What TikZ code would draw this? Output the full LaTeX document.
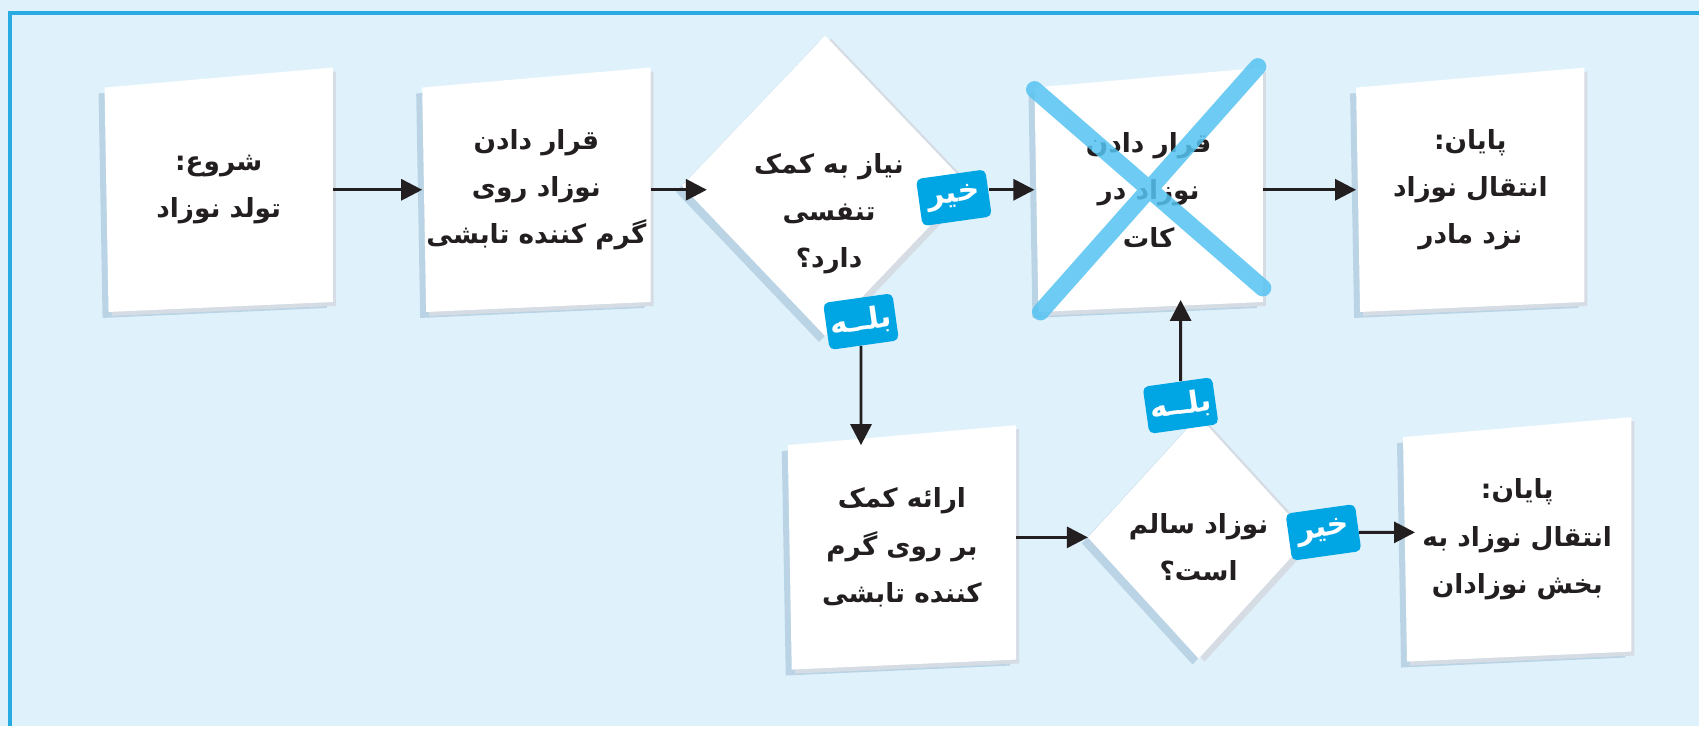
\documentclass[tikz,border=0pt]{standalone}
\usepackage{fontspec}
\newfontfamily\farsi[Script=Arabic]{DejaVu Sans}
\TeXXeTstate=1
\usetikzlibrary{arrows.meta,calc,positioning,shapes.geometric,backgrounds}
\definecolor{bgblue}{HTML}{DFF1FB}
\definecolor{frameblue}{HTML}{29ABE2}
\definecolor{tagblue}{HTML}{00A6E4}
\definecolor{crossblue}{HTML}{55C3F1}
\definecolor{shadeblue}{HTML}{8FB2CB}
\definecolor{sheetgray}{HTML}{D5DCE4}
\definecolor{ink}{HTML}{231F20}
\newcommand\fa[1]{\beginR#1\endR}
\tikzset{
  txt/.style={font=\farsi\bfseries\fontsize{15}{27}\selectfont, text=ink, align=center},
  note/.style={txt, minimum width=4.56cm, minimum height=4.88cm, inner sep=0pt},
  decision/.style={diamond, inner sep=0pt},
  tag/.style={fill=tagblue, text=white, rounded corners=3pt, minimum width=1.4cm, minimum height=0.95cm,
    inner sep=2pt, font=\farsi\bfseries\fontsize{17}{20}\selectfont, rotate=8},
  arr/.style={draw=ink, line width=1.7pt, -{Triangle[length=0.42cm,width=0.42cm]}},
  cross/.style={crossblue, line width=0.34cm, line cap=round, opacity=0.85}
}

\begin{document}
\begin{tikzpicture}[x=0.02cm, y=-0.02cm]
\node[note] (start) at (219,190) {\fa{شروع:}\\\fa{تولد نوزاد}};
\node[note] (warm) at (537,190) {\fa{قرار دادن}\\\fa{نوزاد روی}\\\fa{گرم کننده تابشی}};
\node[decision, minimum width=5.72cm, minimum height=6cm] (need) at (826,186) {};
\node[txt] (needq) at (830,214) {\fa{نیاز به کمک}\\\fa{تنفسی}\\\fa{دارد؟}};
\node[note] (cot) at (1150,190) {\fa{قرار دادن}\\\fa{نوزاد در}\\\fa{کات}};
\node[note] (mother) at (1472,190) {\fa{پایان:}\\\fa{انتقال نوزاد}\\\fa{نزد مادر}};
\node[note] (help) at (903,548) {\fa{ارائه کمک}\\\fa{بر روی گرم}\\\fa{کننده تابشی}};
\node[decision, minimum width=4.42cm, minimum height=4.84cm] (ok) at (1200,538) {};
\node[txt] (okq) at (1200,548) {\fa{نوزاد سالم}\\\fa{است؟}};
\node[note] (ward) at (1519,540) {\fa{پایان:}\\\fa{انتقال نوزاد به}\\\fa{بخش نوزادان}};

\draw[cross] ($(cot.north west)+(0,22)$) -- ($(cot.south east)+(0,-24)$)
             ($(cot.south west)+(6,0)$) -- ($(cot.north east)+(-5,-1)$);

\node[tag] (no1) at (955,198) {\fa{خیر}};
\node[tag] (yes1) at (862,322) {\fa{بلــه}};
\node[tag] (yes2) at (1182,406) {\fa{بلــه}};
\node[tag] (no2) at (1325,533) {\fa{خیر}};

\draw[arr] (start) -- (warm);
\draw[arr, shorten >=-0.5cm] (warm) -- (warm -| need.west);
\draw[arr] (no1.east |- cot) -- (cot);
\draw[arr] (cot) -- (mother);
\draw[arr, shorten >=-0.4cm] (yes1) -- (yes1 |- help.north);
\draw[arr] (help.east |- ok) -- (ok);
\draw[arr, shorten >=-0.24cm] (no2) -- (no2 -| ward.west);
\draw[arr, shorten >=-0.24cm] (yes2) -- (yes2 |- cot.south);

\begin{scope}[on background layer]
\fill[bgblue] (0,0) rectangle (1701,727);
\draw[frameblue, line width=0.08cm] (10,727) -- (10,13) -- (1701,13);
\foreach \n in {start,warm,cot,mother,help,ward}{
  \fill[shadeblue, opacity=0.45] ($(\n.north west)+(-6,26)$) -- ($(\n.north east)+(-6,6)$)
    -- ($(\n.south east)+(-6,-4)$) -- ($(\n.south west)+(-2,6)$) -- cycle;
  \fill[sheetgray] ($(\n.north west)+(3,24)$) -- ($(\n.north east)+(3,4)$)
    -- ($(\n.south east)+(3,-6)$) -- ($(\n.south west)+(7,4)$) -- cycle;
  \fill[white] ($(\n.north west)+(0,20)$) -- (\n.north east)
    -- ($(\n.south east)+(0,-10)$) -- ($(\n.south west)+(4,0)$) -- cycle;
}
\foreach \n in {need,ok}{
  \fill[shadeblue, opacity=0.45] ($(\n.north)+(-6,6)$) -- ($(\n.east)+(-6,6)$)
    -- ($(\n.south)+(-6,6)$) -- ($(\n.west)+(-6,6)$) -- cycle;
  \fill[sheetgray] ($(\n.north)+(6,3)$) -- ($(\n.east)+(6,3)$)
    -- ($(\n.south)+(6,3)$) -- ($(\n.west)+(6,3)$) -- cycle;
  \fill[white] (\n.north) -- (\n.east) -- (\n.south) -- (\n.west) -- cycle;
}
\end{scope}
\end{tikzpicture}
\end{document}
